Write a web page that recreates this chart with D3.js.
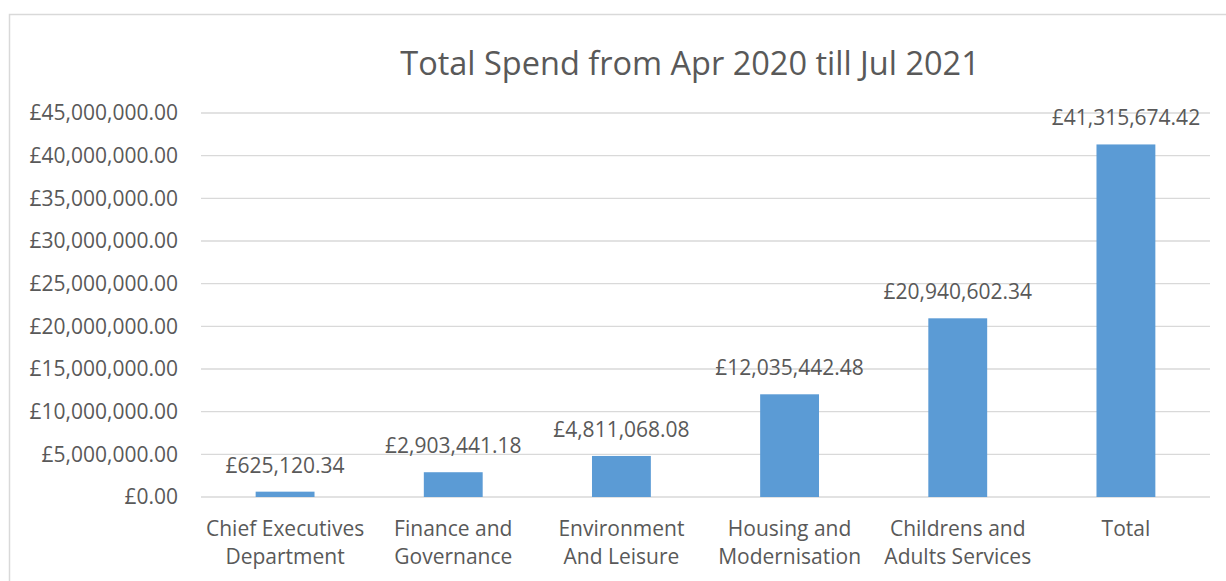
<!DOCTYPE html>
<html>
<head>
<meta charset="utf-8">
<script src="https://cdn.jsdelivr.net/npm/d3@7"></script>
<style>
    body { margin: 0; background: #ffffff; }
    text { font-family: "Open Sans", "Liberation Sans", sans-serif; fill: #595959; }
</style>
</head>
<body>
<script>
// chart data
var categories = [
    ["Chief Executives", "Department"],
    ["Finance and", "Governance"],
    ["Environment", "And Leisure"],
    ["Housing and", "Modernisation"],
    ["Childrens and", "Adults Services"],
    ["Total"]
];
var spend = [625120.34, 2903441.18, 4811068.08, 12035442.48,
    20940602.34, 41315674.42];
var yTicks = [0, 5e6, 10e6, 15e6, 20e6, 25e6, 30e6, 35e6, 40e6, 45e6];
var title = "Total Spend from Apr 2020 till Jul 2021";

var W = 1226, H = 581;
var margin = {top: 113, right: 16, bottom: 84, left: 201},
    width = W - margin.left - margin.right,
    height = H - margin.top - margin.bottom;
var labelSize = "21px";

var svg = d3.select("body").append("svg")
    .attr("width", W)
    .attr("height", H);

// outer chart border (runs off the right and bottom edges)
svg.append("rect")
    .attr("x", 9.5).attr("y", 14.5)
    .attr("width", W).attr("height", H)
    .attr("fill", "none")
    .attr("stroke", "#d9d9d9")
    .attr("stroke-width", 1.5);

svg.append("text")
    .attr("x", 690).attr("y", 75)
    .attr("text-anchor", "middle")
    .attr("font-size", "32.5px")
    .text(title);

var g = svg.append("g")
    .attr("transform", "translate(" + margin.left + "," + margin.top + ")");

var idx = d3.range(spend.length);
var xScale = d3.scaleBand().domain(idx).range([0, width])
    .paddingInner(0.65).paddingOuter(0.325);
var yScale = d3.scaleLinear().domain([0, 45e6]).range([height, 0]);

var fmt = d3.format(",.2f");
function money(v) { return "£" + fmt(v); }

// gridlines
g.selectAll("line.grid")
    .data(yTicks)
    .enter().append("line")
    .attr("class", "grid")
    .attr("x1", 0).attr("x2", width)
    .attr("y1", function(d) { return yScale(d); })
    .attr("y2", function(d) { return yScale(d); })
    .attr("stroke", "#d9d9d9")
    .attr("stroke-width", 1.3);

// y axis labels
var yAxis = d3.axisLeft(yScale).tickValues(yTicks)
    .tickFormat(money).tickSize(0).tickPadding(23);
var ya = g.append("g").call(yAxis);
ya.select(".domain").remove();
ya.selectAll("text")
    .attr("font-size", labelSize)
    .attr("fill", "#595959")
    .attr("font-family", "'Open Sans', sans-serif");

// bars
g.selectAll("rect.bar")
    .data(spend)
    .enter().append("rect")
    .attr("class", "bar")
    .attr("x", function(d, i) { return xScale(i); })
    .attr("y", function(d) { return yScale(d); })
    .attr("width", xScale.bandwidth())
    .attr("height", function(d) { return height - yScale(d); })
    .attr("fill", "#5b9bd5");

// value labels
g.selectAll("text.val")
    .data(spend)
    .enter().append("text")
    .attr("class", "val")
    .attr("x", function(d, i) { return xScale(i) + xScale.bandwidth() / 2; })
    .attr("y", function(d) { return yScale(d) - 19; })
    .attr("text-anchor", "middle")
    .attr("font-size", labelSize)
    .text(money);

// category labels, two lines each
var cat = g.selectAll("text.cat")
    .data(categories)
    .enter().append("text")
    .attr("class", "cat")
    .attr("text-anchor", "middle")
    .attr("font-size", labelSize)
    .attr("transform", function(d, i) {
        return "translate(" + (xScale(i) + xScale.bandwidth() / 2) +
            "," + (height + 39) + ")";
    });
cat.selectAll("tspan")
    .data(function(d) { return d; })
    .enter().append("tspan")
    .attr("x", 0)
    .attr("y", function(d, i) { return i * 28; })
    .text(function(d) { return d; });
</script>
</body>
</html>
